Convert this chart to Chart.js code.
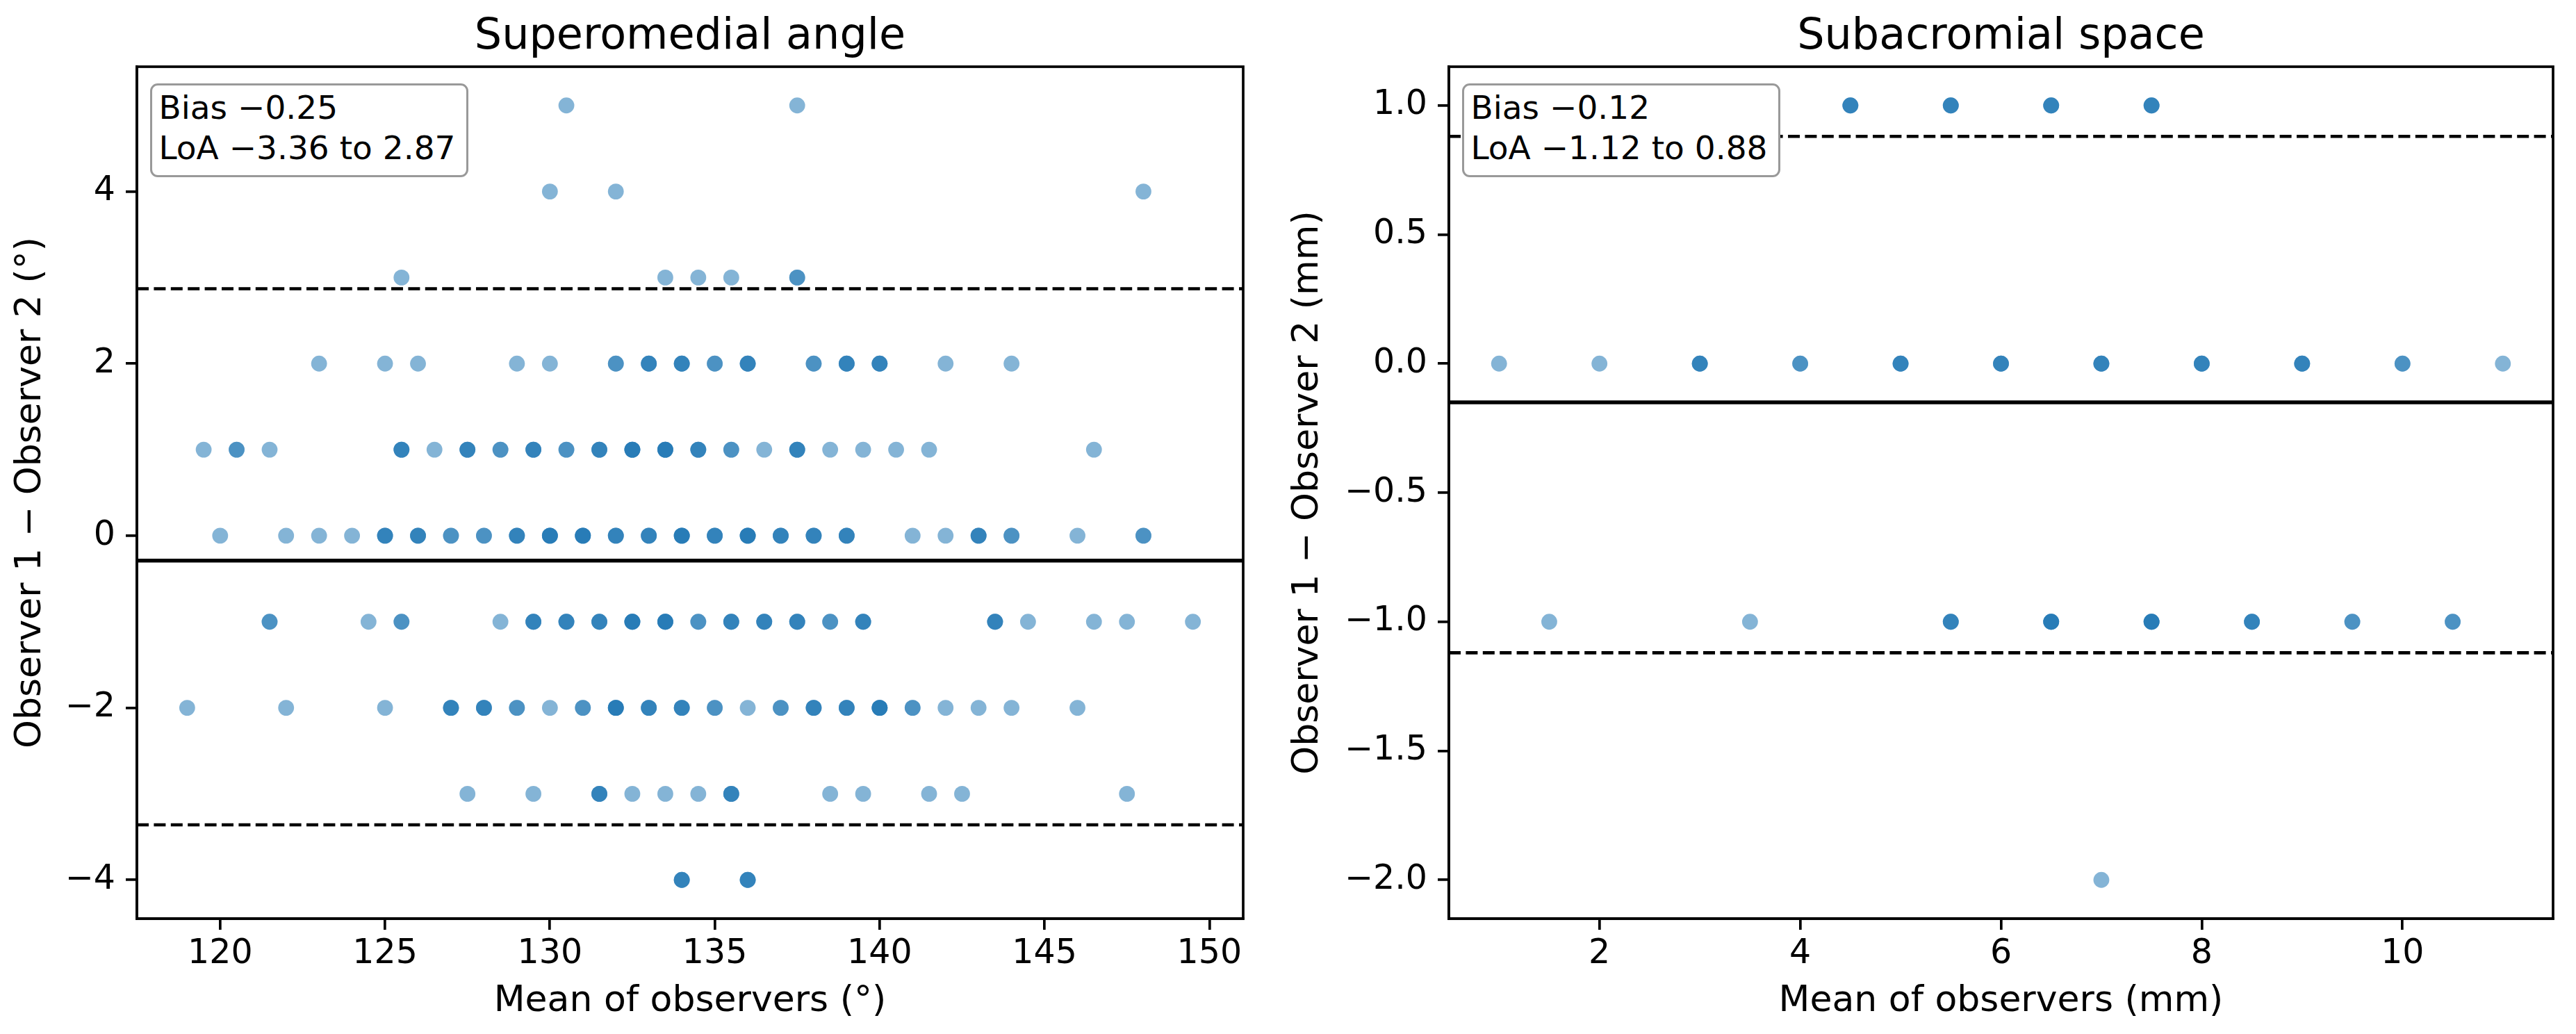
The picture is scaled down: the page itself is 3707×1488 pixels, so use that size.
<!DOCTYPE html>
<html>
<head>
<meta charset="utf-8">
<script src="https://cdn.jsdelivr.net/npm/chart.js@4.4.1/dist/chart.umd.min.js"></script>
<style>
html, body { margin:0; padding:0; background:#fff; width:3707px; height:1488px; overflow:hidden; }
.panel { position:absolute; top:0; height:1488px; }
canvas { display:block; }
.title { position:absolute; font-family:"DejaVu Sans"; font-size:62px; line-height:62px; color:#000; white-space:nowrap; transform:translateX(-50%); }
.stat { position:absolute; box-sizing:border-box; height:135px; border:3px solid #999; border-radius:11px; background:#fff; font-family:"DejaVu Sans"; font-size:47px; line-height:58px; padding:3px 16px 0 10px; white-space:nowrap; color:#000; }
</style>
</head>
<body>
<div class="panel" style="left:0;width:1850px"><canvas id="c1" width="1850" height="1488" style="width:1850px;height:1488px"></canvas></div>
<div class="panel" style="left:1850px;width:1857px"><canvas id="c2" width="1857" height="1488" style="width:1857px;height:1488px"></canvas></div>
<script>
// ---------------- Superomedial angle data (mean of observers, per difference row) ----------------
const angleRowDiffs = [5, 4, 3, 2, 1, 0, -1, -2, -3, -4];
const angleMeans5  = [130.5, 137.5];
const angleMeans4  = [130, 132, 148];
const angleMeans3  = [125.5, 133.5, 134.5, 135.5, 137.5, 137.5];
const angleMeans2  = [123, 125, 126, 129, 130, 132, 132, 133, 133, 133, 134, 134, 134, 135, 135, 136, 136, 136, 138, 138, 139, 139, 139, 140, 140, 140, 142, 144];
const angleMeans1  = [119.5, 120.5, 120.5, 121.5, 125.5, 125.5, 125.5, 126.5, 127.5, 127.5, 127.5, 128.5, 128.5, 129.5, 129.5, 129.5, 130.5, 130.5, 131.5, 131.5, 131.5, 132.5, 132.5, 132.5, 132.5, 133.5, 133.5, 133.5, 133.5, 134.5, 134.5, 134.5, 135.5, 135.5, 136.5, 137.5, 137.5, 137.5, 138.5, 139.5, 140.5, 141.5, 146.5];
const angleMeans0  = [120, 122, 123, 124, 125, 125, 125, 126, 126, 126, 127, 127, 128, 128, 129, 129, 129, 130, 130, 130, 130, 131, 131, 131, 131, 132, 132, 132, 133, 133, 133, 134, 134, 134, 134, 135, 135, 135, 136, 136, 136, 136, 137, 137, 137, 138, 138, 138, 139, 139, 139, 141, 142, 143, 143, 143, 144, 144, 146, 148, 148];
const angleMeansM1 = [121.5, 121.5, 124.5, 125.5, 125.5, 128.5, 129.5, 129.5, 129.5, 130.5, 130.5, 130.5, 131.5, 131.5, 131.5, 132.5, 132.5, 132.5, 132.5, 133.5, 133.5, 133.5, 133.5, 134.5, 134.5, 135.5, 135.5, 135.5, 136.5, 136.5, 136.5, 137.5, 137.5, 137.5, 138.5, 138.5, 139.5, 139.5, 139.5, 143.5, 143.5, 143.5, 144.5, 146.5, 147.5, 149.5];
const angleMeansM2 = [119, 122, 125, 127, 127, 127, 128, 128, 128, 129, 129, 130, 131, 131, 132, 132, 132, 132, 133, 133, 133, 134, 134, 134, 135, 135, 136, 137, 137, 138, 138, 138, 139, 139, 139, 140, 140, 140, 140, 141, 141, 142, 143, 144, 146];
const angleMeansM3 = [127.5, 129.5, 131.5, 131.5, 131.5, 132.5, 133.5, 134.5, 135.5, 135.5, 135.5, 138.5, 139.5, 141.5, 142.5, 147.5];
const angleMeansM4 = [134, 134, 134, 136, 136, 136];
const angleRowMeans = [angleMeans5, angleMeans4, angleMeans3, angleMeans2, angleMeans1, angleMeans0, angleMeansM1, angleMeansM2, angleMeansM3, angleMeansM4];
const angleBiasLine = -0.29;
const angleLoA = [-3.36, 2.87];
const angleStatText = ["Bias \u22120.25", "LoA \u22123.36 to 2.87"];
const angleXLimits = [117.475, 151.025];
const angleYLimits = [-4.45, 5.45];
const angleXTicks = [120, 125, 130, 135, 140, 145, 150];
const angleYTicks = [-4, -2, 0, 2, 4];

// ---------------- Subacromial space data ----------------
const spaceRowDiffs = [1, 0, -1, -2];
const spaceMeans1  = [4.5, 4.5, 4.5, 5.5, 5.5, 5.5, 6.5, 6.5, 6.5, 7.5, 7.5, 7.5];
const spaceMeans0  = [1, 2, 3, 3, 3, 4, 4, 5, 5, 5, 6, 6, 6, 7, 7, 7, 8, 8, 8, 9, 9, 9, 10, 10, 11];
const spaceMeansM1 = [1.5, 3.5, 5.5, 5.5, 5.5, 6.5, 6.5, 6.5, 6.5, 7.5, 7.5, 7.5, 7.5, 8.5, 8.5, 8.5, 9.5, 9.5, 10.5, 10.5];
const spaceMeansM2 = [7];
const spaceRowMeans = [spaceMeans1, spaceMeans0, spaceMeansM1, spaceMeansM2];
const spaceBiasLine = -0.15;
const spaceLoA = [-1.12, 0.88];
const spaceStatText = ["Bias \u22120.12", "LoA \u22121.12 to 0.88"];
const spaceXLimits = [0.5, 11.5];
const spaceYLimits = [-2.15, 1.15];
const spaceXTicks = [2, 4, 6, 8, 10];
const spaceYTicks = [-2.0, -1.5, -1.0, -0.5, 0.0, 0.5, 1.0];

// ---------------- helpers ----------------
const FONT = "DejaVu Sans";
function fmt(v, d) { return (v < 0 ? "\u2212" : "") + Math.abs(v).toFixed(d); }
function buildPoints(rowDiffs, rowMeans) {
  const pts = [];
  rowDiffs.forEach((d, i) => rowMeans[i].forEach(m => pts.push({ x: m, y: d })));
  return pts;
}
function hLine(y, xl, dashed) {
  return {
    data: [{ x: xl[0], y: y }, { x: xl[1], y: y }],
    showLine: true, borderColor: "#000", borderWidth: dashed ? 4.6 : 5.5,
    borderDash: dashed ? [17, 7.4] : [], pointRadius: 0, pointHoverRadius: 0,
    order: 0, clip: false
  };
}
const framePlugin = {
  id: "frame",
  afterDraw(chart) {
    const { ctx, chartArea: a } = chart;
    ctx.save();
    ctx.strokeStyle = "#000"; ctx.lineWidth = 3.7;
    ctx.strokeRect(a.left, a.top, a.right - a.left, a.bottom - a.top);
    ctx.restore();
  }
};
function axisCommon() {
  return {
    grid: { display: true, drawOnChartArea: false, drawTicks: true, tickLength: 16, color: "#000", lineWidth: 3.7 },
    border: { display: true, color: "#000", width: 3.7 }
  };
}
function makeChart(cfg) {
  const pts = buildPoints(cfg.rowDiffs, cfg.rowMeans);
  const chart = new Chart(document.getElementById(cfg.canvas), {
    type: "scatter",
    data: {
      datasets: [
        { data: pts, backgroundColor: "rgba(31,119,180,0.55)", borderWidth: 0, pointRadius: 11.4, pointHoverRadius: 11.4, order: 1 },
        hLine(cfg.bias, cfg.xl, false),
        hLine(cfg.loa[0], cfg.xl, true),
        hLine(cfg.loa[1], cfg.xl, true)
      ]
    },
    options: {
      responsive: false, animation: false, devicePixelRatio: 1,
      layout: { padding: { top: 96, left: 0, right: cfg.padRight, bottom: 0 } },
      plugins: { legend: { display: false }, tooltip: { enabled: false }, title: { display: false } },
      scales: {
        x: Object.assign(axisCommon(), {
          type: "linear", position: "bottom", min: cfg.xl[0], max: cfg.xl[1],
          afterBuildTicks: s => { s.ticks = cfg.xTicks.map(v => ({ value: v })); },
          afterFit: s => { s.height = 166; },
          ticks: { color: "#000", font: { family: FONT, size: 49 }, padding: 6, maxRotation: 0, autoSkip: false,
                   callback: v => fmt(v, cfg.xDec) },
          title: { display: true, text: cfg.xTitle, color: "#000", font: { family: FONT, size: 52 }, padding: { top: 0, bottom: 15 } }
        }),
        y: Object.assign(axisCommon(), {
          type: "linear", position: "left", min: cfg.yl[0], max: cfg.yl[1],
          afterBuildTicks: s => { s.ticks = cfg.yTicks.map(v => ({ value: v })); },
          afterFit: s => { s.width = cfg.yWidth; },
          ticks: { color: "#000", font: { family: FONT, size: 49 }, padding: 15, autoSkip: false,
                   callback: v => fmt(v, cfg.yDec) },
          title: { display: true, text: cfg.yTitle, color: "#000", font: { family: FONT, size: 52 }, padding: { top: cfg.yTitlePad, bottom: 0 } }
        })
      }
    },
    plugins: [framePlugin]
  });
  const a = chart.chartArea;
  const t = document.createElement("div");
  t.className = "title"; t.textContent = cfg.title;
  t.style.left = (cfg.offset + (a.left + a.right) / 2) + "px";
  t.style.top = (a.top - 78) + "px";
  document.body.appendChild(t);
  const b = document.createElement("div");
  b.className = "stat";
  b.innerHTML = cfg.stat.map(s => "<div>" + s + "</div>").join("");
  b.style.left = (cfg.offset + a.left + 18.5) + "px";
  b.style.top = (a.top + 24) + "px";
  document.body.appendChild(b);
  return chart;
}

makeChart({
  canvas: "c1", offset: 0, rowDiffs: angleRowDiffs, rowMeans: angleRowMeans,
  bias: angleBiasLine, loa: angleLoA, xl: angleXLimits, yl: angleYLimits,
  xTicks: angleXTicks, yTicks: angleYTicks, xDec: 0, yDec: 0,
  padRight: 61, yWidth: 197, yTitlePad: 12.8,
  xTitle: "Mean of observers (\u00b0)", yTitle: "Observer 1 \u2212 Observer 2 (\u00b0)",
  title: "Superomedial angle", stat: angleStatText
});
makeChart({
  canvas: "c2", offset: 1850, rowDiffs: spaceRowDiffs, rowMeans: spaceRowMeans,
  bias: spaceBiasLine, loa: spaceLoA, xl: spaceXLimits, yl: spaceYLimits,
  xTicks: spaceXTicks, yTicks: spaceYTicks, xDec: 0, yDec: 1,
  padRight: 33, yWidth: 235, yTitlePad: 1.3,
  xTitle: "Mean of observers (mm)", yTitle: "Observer 1 \u2212 Observer 2 (mm)",
  title: "Subacromial space", stat: spaceStatText
});
</script>
</body>
</html>
